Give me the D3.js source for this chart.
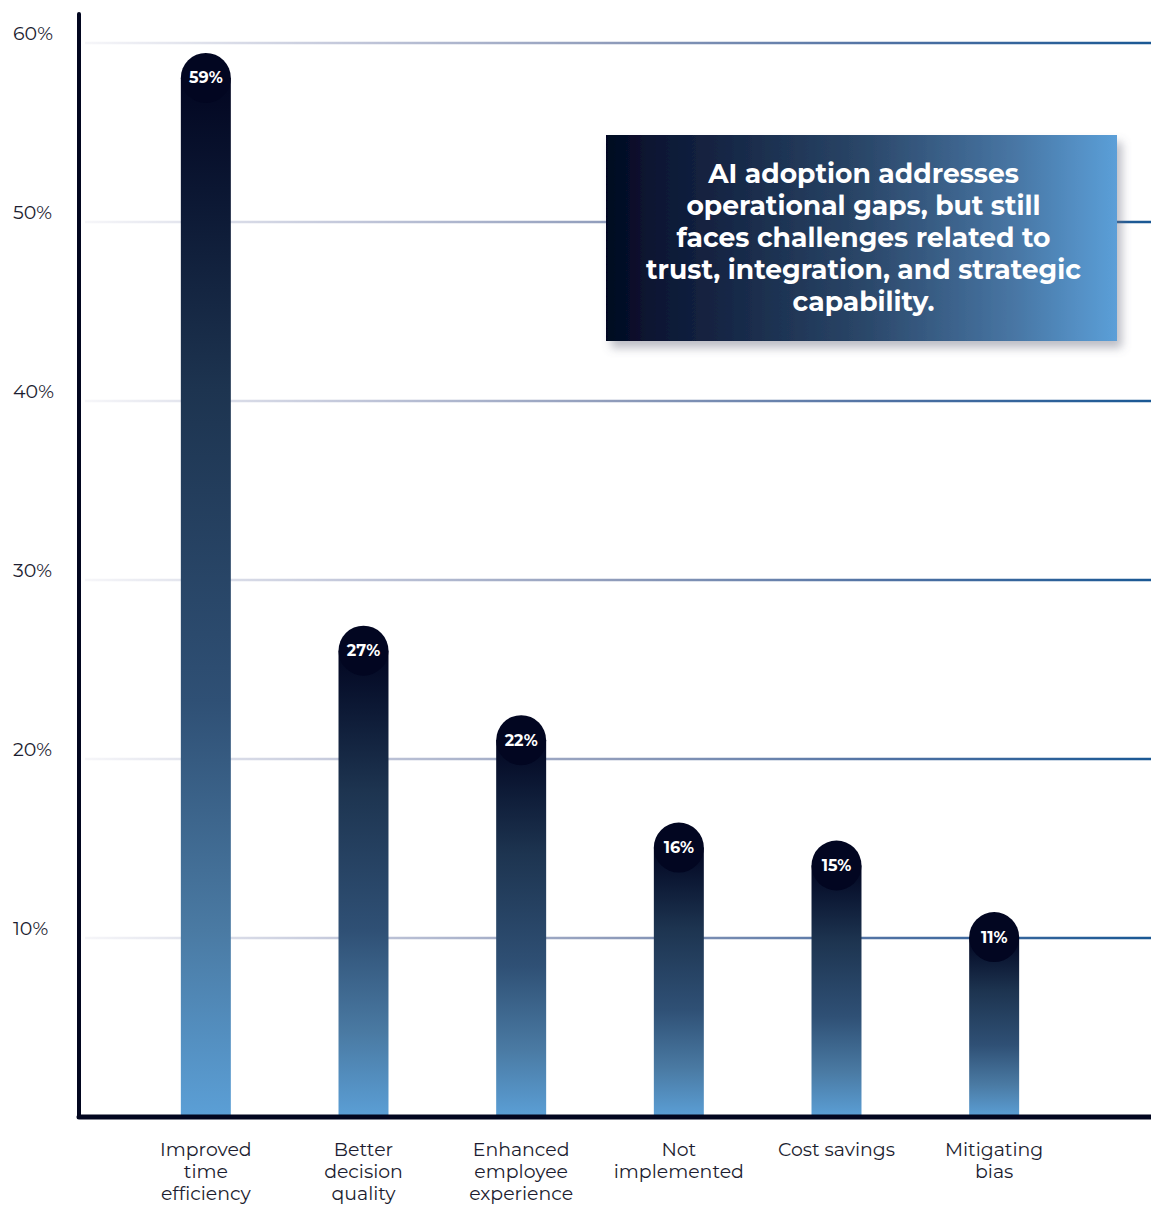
<!DOCTYPE html>
<html>
<head>
<meta charset="utf-8">
<script src="https://cdn.jsdelivr.net/npm/d3@7"></script>
<style>
  html, body { margin: 0; padding: 0; background: #ffffff; }
  svg { display: block; font-family: Montserrat, Inter, "Noto Sans", sans-serif; }
</style>
</head>
<body>
<svg id="chart" width="1151" height="1205"></svg>
<script>
// Share of respondents reporting each AI outcome
const categories = [
  "Improved time efficiency",
  "Better decision quality",
  "Enhanced employee experience",
  "Not implemented",
  "Cost savings",
  "Mitigating bias"
];
const categoryLines = [
  ["Improved", "time", "efficiency"],
  ["Better", "decision", "quality"],
  ["Enhanced", "employee", "experience"],
  ["Not", "implemented"],
  ["Cost savings"],
  ["Mitigating", "bias"]
];
const values = [59, 27, 22, 16, 15, 11];
const tickValues = [10, 20, 30, 40, 50, 60];
const tickLabels = ["10%", "20%", "30%", "40%", "50%", "60%"];
const calloutLines = [
  "AI adoption addresses",
  "operational gaps, but still",
  "faces challenges related to",
  "trust, integration, and strategic",
  "capability."
];

const svg = d3.select("#chart");
const W = 1151, H = 1205;
const axisX = 79, baseY = 1117;

const x = d3.scaleBand()
  .domain(categories)
  .range([127, 1073])
  .paddingInner(0.683)
  .paddingOuter(0.3415);

const y = d3.scaleLinear().domain([0, 60]).range([baseY, 43]);

const defs = svg.append("defs");

// Gridline fade: pale on the left, deep blue on the right
const gGrid = defs.append("linearGradient")
  .attr("id", "gridGrad").attr("gradientUnits", "userSpaceOnUse")
  .attr("x1", 85).attr("x2", W).attr("y1", 0).attr("y2", 0);
[[0, "#f6f6f9"], [0.25, "#c2c7da"], [0.5, "#8e9bba"], [0.75, "#4f71a3"], [1, "#1a5894"]]
  .forEach(([o, c]) => gGrid.append("stop").attr("offset", o).attr("stop-color", c));

// Bar fill: navy at the top, light blue at the base
const gBar = defs.append("linearGradient")
  .attr("id", "barGrad").attr("x1", 0).attr("x2", 0).attr("y1", 0).attr("y2", 1);
[[0, "#020621"], [0.12, "#0c1834"], [0.3, "#1d3450"], [0.6, "#2f5075"], [0.82, "#4a7aa3"], [1, "#5b9fd6"]]
  .forEach(([o, c]) => gBar.append("stop").attr("offset", o).attr("stop-color", c));

// Callout fill: navy to light blue, left to right
const gBox = defs.append("linearGradient")
  .attr("id", "boxGrad").attr("x1", 0).attr("x2", 1).attr("y1", 0).attr("y2", 0);
[[0, "#020621"], [0.1, "#0c1734"], [0.5, "#2a4668"], [0.8, "#4876a4"], [1, "#5b9fd8"]]
  .forEach(([o, c]) => gBox.append("stop").attr("offset", o).attr("stop-color", c));

const shadow = defs.append("filter").attr("id", "boxShadow")
  .attr("x", "-10%").attr("y", "-10%").attr("width", "125%").attr("height", "130%");
shadow.append("feDropShadow").attr("dx", 5).attr("dy", 7).attr("stdDeviation", 5)
  .attr("flood-color", "#6a6f80").attr("flood-opacity", 0.45);

// Gridlines
svg.append("g").selectAll("line").data(tickValues).join("line")
  .attr("x1", 85).attr("x2", W)
  .attr("y1", d => y(d)).attr("y2", d => y(d))
  .attr("stroke", "url(#gridGrad)").attr("stroke-width", 2.4);

// Tick labels
svg.append("g").selectAll("text").data(tickValues).join("text")
  .attr("x", 13).attr("y", d => y(d) - 3)
  .attr("font-size", 19).attr("font-weight", 400).attr("fill", "#1c1d30")
  .text((d, i) => tickLabels[i]);

// Callout box
const box = { x: 606, y: 135, w: 511, h: 206 };
svg.append("rect")
  .attr("x", box.x).attr("y", box.y).attr("width", box.w).attr("height", box.h)
  .attr("fill", "url(#boxGrad)").attr("filter", "url(#boxShadow)");
svg.append("g").selectAll("text").data(calloutLines).join("text")
  .attr("x", box.x + box.w / 2 + 2).attr("y", (d, i) => 183 + i * 32)
  .attr("text-anchor", "middle").attr("font-size", 26.6).attr("font-weight", 700)
  .attr("fill", "#ffffff")
  .text(d => d);

// Bars with a round cap carrying the value
const r = x.bandwidth() / 2;
const capOffset = 17;
const bars = svg.append("g").selectAll("g").data(values).join("g");
bars.append("rect")
  .attr("x", (d, i) => x(categories[i]))
  .attr("y", d => y(d) + capOffset)
  .attr("width", x.bandwidth())
  .attr("height", d => baseY - y(d) - capOffset)
  .attr("fill", "url(#barGrad)");
bars.append("circle")
  .attr("cx", (d, i) => x(categories[i]) + r)
  .attr("cy", d => y(d) + capOffset)
  .attr("r", r)
  .attr("fill", "#020621");
bars.append("text")
  .attr("x", (d, i) => x(categories[i]) + r)
  .attr("y", d => y(d) + capOffset + 5.5)
  .attr("text-anchor", "middle").attr("font-size", 16).attr("font-weight", 700)
  .attr("fill", "#ffffff")
  .text(d => d + "%");

// Axes
svg.append("line")
  .attr("x1", axisX).attr("x2", axisX).attr("y1", 14).attr("y2", baseY)
  .attr("stroke", "#02061f").attr("stroke-width", 4).attr("stroke-linecap", "round");
svg.append("line")
  .attr("x1", axisX).attr("x2", W + 2).attr("y1", baseY).attr("y2", baseY)
  .attr("stroke", "#02061f").attr("stroke-width", 5).attr("stroke-linecap", "round");

// Category labels
const cat = svg.append("g").selectAll("text").data(categories).join("text")
  .attr("text-anchor", "middle").attr("font-size", 18.9).attr("font-weight", 400)
  .attr("fill", "#1c1d30");
cat.each(function(d, i) {
  const cx = x(d) + r;
  d3.select(this).selectAll("tspan").data(categoryLines[i]).join("tspan")
    .attr("x", cx).attr("y", (t, j) => 1156 + j * 22)
    .text(t => t);
});
</script>
</body>
</html>
